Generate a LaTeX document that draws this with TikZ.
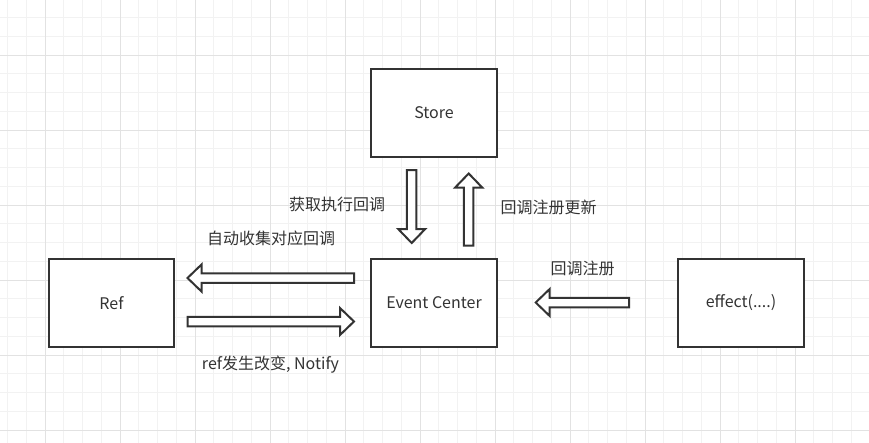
\documentclass[tikz,border=0pt]{standalone}
\usepackage{fontspec}
\setmainfont{Noto Sans CJK SC}
\definecolor{ink}{HTML}{333333}
\definecolor{gridminor}{HTML}{F2F2F2}
\definecolor{gridmajor}{HTML}{E2E2E2}
\tikzset{
  box/.style={draw=ink, line width=1.6pt, fill=white, minimum width=94pt, minimum height=65.5pt, inner sep=0pt, text=ink, font=\fontsize{12}{14}\selectfont},
  lbl/.style={text=ink, font=\fontsize{12}{14}\selectfont, inner sep=0pt},
  blockarrow/.style={draw=ink, line width=1.5pt, fill=white, line join=miter},
  minorgrid/.style={draw=gridminor, line width=0.75pt},
  majorgrid/.style={draw=gridmajor, line width=0.75pt}
}
\newcommand{\barrowdraw}[4]{% x, y of tail, angle, length
  \begin{scope}[shift={(#1,#2)}, rotate=#3]
    \draw[blockarrow] (0,-4.75) -- ({#4-14},-4.75) -- ({#4-14},-13.5) -- (#4,0) -- ({#4-14},13.5) -- ({#4-14},4.75) -- (0,4.75) -- cycle;
  \end{scope}}
\begin{document}
\begin{tikzpicture}[x=0.75pt, y=-0.75pt]
\useasboundingbox (0,0) rectangle (869,443);
\fill[white] (0,0) rectangle (869,443);
% grid
\foreach \i in {0,...,46} \draw[minorgrid] ({7.5+18.75*\i},0) -- ({7.5+18.75*\i},443);
\foreach \j in {1,...,23} \draw[minorgrid] (0,{-1.25+18.75*\j}) -- (869,{-1.25+18.75*\j});
\foreach \i in {0,...,10} \draw[majorgrid] ({45+75*\i},0) -- ({45+75*\i},443);
\foreach \j in {0,...,5} \draw[majorgrid] (0,{55+75*\j}) -- (869,{55+75*\j});
% boxes
\node[box] (store) at (434,113) {Store};
\node[box] (center) at (434,303) {Event Center};
\node[box] (ref) at (111.5,303) {Ref};
\node[box] (effect) at (741,303) {effect(....)};
% block arrows
\barrowdraw{411.7}{170}{-90}{73}
\barrowdraw{468.7}{245.5}{90}{72}
\barrowdraw{354}{278}{180}{166.5}
\barrowdraw{187.5}{321.5}{0}{166.5}
\barrowdraw{629}{302.5}{180}{93.3}
% labels
\node[lbl] (l1) at (337,204) {获取执行回调};
\node[lbl] (l2) at (548.5,207.5) {回调注册更新};
\node[lbl] (l3) at (271,238.5) {自动收集对应回调};
\node[lbl] (l4) at (270.5,365) {ref发生改变, Notify};
\node[lbl] (l5) at (582.5,268.5) {回调注册};
\end{tikzpicture}
\end{document}
